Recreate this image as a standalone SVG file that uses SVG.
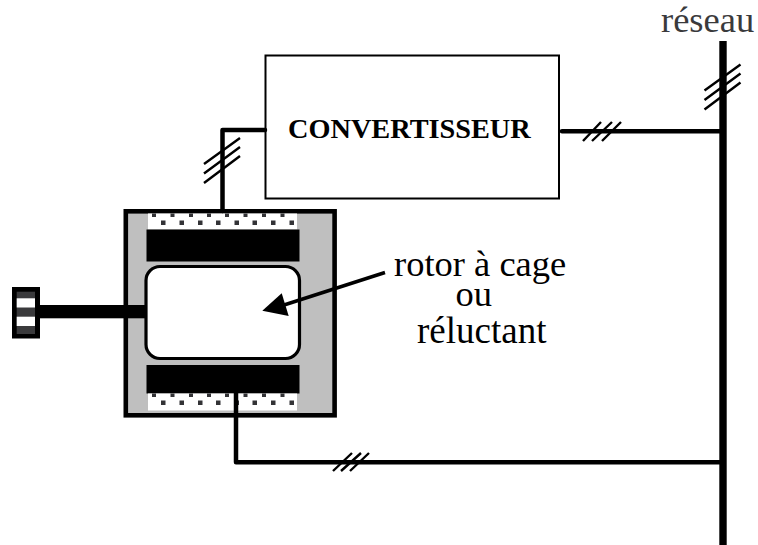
<svg xmlns="http://www.w3.org/2000/svg" width="758" height="545" viewBox="0 0 758 545">
<style>
.w{fill:none;stroke:#000;stroke-width:4.5;stroke-linejoin:round;stroke-linecap:round}
.t{fill:none;stroke:#000;stroke-width:2.400}
.d{fill:#333336}
text{font-family:"Liberation Serif","Times New Roman",serif;fill:#000}
</style>
<defs>
<g id="ticks"><path class="t" d="M0 26L36 0M0 35.500L36 9M0 45L36 18"/></g>
<g id="dots">
<rect class="d" x="152" y="0" width="4" height="3.500"/><rect class="d" x="170.500" y="0" width="4" height="3.500"/><rect class="d" x="189" y="0" width="4" height="3.500"/><rect class="d" x="207" y="0" width="4" height="3.500"/><rect class="d" x="225" y="0" width="4" height="3.500"/><rect class="d" x="243.500" y="0" width="4" height="3.500"/><rect class="d" x="262" y="0" width="4" height="3.500"/><rect class="d" x="280.500" y="0" width="4" height="3.500"/>
<rect class="d" x="161" y="7" width="4.500" height="4.500"/><rect class="d" x="179.500" y="7" width="4.500" height="4.500"/><rect class="d" x="198" y="7" width="4.500" height="4.500"/><rect class="d" x="216" y="7" width="4.500" height="4.500"/><rect class="d" x="234.500" y="7" width="4.500" height="4.500"/><rect class="d" x="252.500" y="7" width="4.500" height="4.500"/><rect class="d" x="271" y="7" width="4.500" height="4.500"/><rect class="d" x="289.500" y="7" width="4.500" height="4.500"/>
</g>
</defs>
<g id="machine">
<rect x="125.800" y="211.300" width="208.800" height="204" fill="#bfbfbf" stroke="#000" stroke-width="4.600"/>
<rect x="148" y="213.500" width="149" height="16" fill="#fff"/>
<use href="#dots" y="213.500"/>
<rect x="146.500" y="229.500" width="153" height="32"/>
<rect x="146.500" y="365" width="153" height="28.500"/>
<rect x="148" y="393.500" width="149" height="17" fill="#fff"/>
<use href="#dots" y="393.500"/>
<rect x="146" y="266.500" width="153.500" height="92" rx="14" fill="#fff" stroke="#000" stroke-width="3.200"/>
</g>
<g id="shaft">
<rect x="40" y="305" width="106" height="13.300"/>
<rect x="12" y="287" width="28" height="51.500"/>
<rect x="16.700" y="291.700" width="18.300" height="42.300" fill="#3a3a3c"/>
<rect x="16.700" y="298.300" width="18.300" height="9.200" fill="#fff"/>
<rect x="16.700" y="316.700" width="18.300" height="9.300" fill="#fff"/>
</g>
<g id="convertisseur">
<rect x="265.500" y="55.500" width="293.500" height="143" fill="#fff" stroke="#000" stroke-width="2"/>
<text x="288" y="137.700" font-size="28.300" font-weight="bold">CONVERTISSEUR</text>
</g>
<g id="connectors">
<path class="w" d="M265 130H222.500V211"/>
<path class="w" d="M562 131.300H721"/>
<path class="w" d="M236 393V462.300H721"/>
<rect x="719.300" y="41" width="7.400" height="504"/>
<use href="#ticks" x="204" y="138"/>
<use href="#ticks" x="704.500" y="64.500"/>
<path class="t" d="M583 141L601 122M592 141L612 122M602 141L621 122"/>
<path class="t" d="M333 471L352 453M341 471L361 453M350 471L369 453"/>
<path d="M385 272.500L284 305" fill="none" stroke="#000" stroke-width="3.500"/>
<path d="M262.300 310.700L281.700 293.300L288.700 316Z"/>
</g>
<g id="labels">
<text x="661" y="32.300" font-size="36.500" style="fill:#3a3a3c">réseau</text>
<text x="394" y="275.700" font-size="36.500">rotor à cage</text>
<text x="455.500" y="306" font-size="36.500">ou</text>
<text x="417" y="342.700" font-size="37">réluctant</text>
</g>
</svg>
